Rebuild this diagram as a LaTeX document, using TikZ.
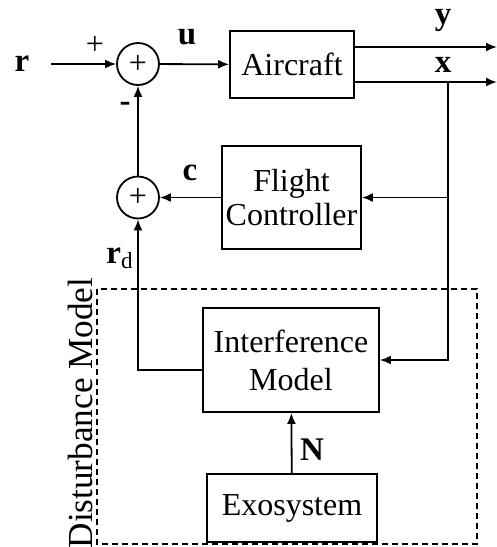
\documentclass[tikz,border=0pt]{standalone}
\usepackage{fontspec}
\setmainfont{Liberation Serif}
\usetikzlibrary{arrows.meta}

\begin{document}
\begin{tikzpicture}[x=0.5pt, y=-0.5pt, line width=0.9pt,
    >={Latex[length=5.5pt,width=4.5pt]},
    every node/.style={font=\fontsize{16}{18}\selectfont},
    block/.style={draw, rectangle, align=center, inner sep=0pt},
    sumnode/.style={draw, circle, minimum size=21pt, inner sep=0pt},
    sig/.style={font=\fontsize{16.5}{18}\selectfont\bfseries}]
    \useasboundingbox (0,0) rectangle (497,547);
    % blocks
    \node (r) [sig] at (22,64) {r};
    \node (sum1) [sumnode] at (138,64) {+};
    \node (air) [block, minimum width=62pt, minimum height=33.5pt] at (292,64.5) {Aircraft};
    \node (fc) [block, minimum width=69.5pt, minimum height=51.5pt] at (291.5,197.5) {Flight\\[-1pt]Controller};
    \node (sum2) [sumnode] at (138,197.5) {+};
    \node (im) [block, minimum width=88pt, minimum height=52pt] at (291,360) {Interference\\[1pt]Model};
    \node (exo) [block, minimum width=85pt, minimum height=34pt] at (292,508) {Exosystem};
    \coordinate (yend) at (497,47);
    \coordinate (xend) at (497,82);
    \coordinate (br) at (448,82);
    \coordinate (rdcorner) at (138,370);
    % disturbance model frame
    \draw[dash pattern=on 3pt off 2pt] (97,289) rectangle (477,544);
    \node (dmlbl) [rotate=90, font=\fontsize{17.6}{19}\selectfont] at (80,413) {Disturbance Model};
    % signals
    \draw[->] ([xshift=7pt]r.east) -- (sum1);
    \draw[->] (sum1) -- (air);
    \draw[->] (air.east |- yend) -- (yend);
    \draw[->] (air.east |- xend) -- (xend);
    \draw[->] (br) |- (im.east);
    \draw[->] (br |- fc.east) -- (fc.east);
    \draw[->] (fc) -- (sum2);
    \draw[->] (sum2) -- (sum1);
    \draw[->] ([yshift=-5pt]im.west) -- (rdcorner) -- (sum2);
    \draw[->] (exo) -- (im);
    % labels
    \node (plus) at (95,45) {+};
    \node (minus) [sig] at (125,107) {-};
    \node (ulbl) [sig] at (187,37) {u};
    \node (ylbl) [sig] at (443,20) {y};
    \node (xlbl) [sig] at (443,65) {x};
    \node (clbl) [sig] at (190,173) {c};
    \node (rdlbl) [sig] at (120,258) {r\textsubscript{\mdseries d}};
    \node (nlbl) [sig] at (312,450) {N};
\end{tikzpicture}
\end{document}
